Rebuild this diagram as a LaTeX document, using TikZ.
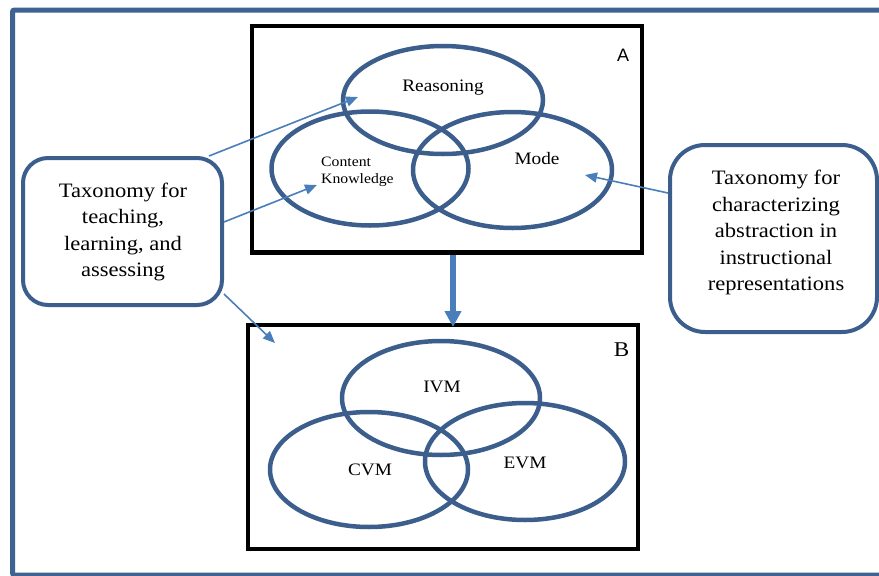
\documentclass[tikz,border=0pt]{standalone}
\usepackage{fontspec}
\setmainfont[FakeStretch=1.1]{Liberation Serif}
\newfontfamily\labsans{Liberation Sans}
\usetikzlibrary{arrows.meta,shapes.geometric}
\definecolor{frameblue}{HTML}{3E6292}
\definecolor{ringblue}{HTML}{3B5E8C}
\definecolor{arrowblue}{HTML}{4A7EBB}
\tikzset{
  ring/.style={ellipse, draw=ringblue, line width=4.5pt, inner sep=0pt},
  blackbox/.style={draw=black, line width=4.5pt, inner sep=0pt},
  taxbox/.style={draw=ringblue, line width=4pt, inner sep=0pt},
  boxtext/.style={align=center, font=\fontsize{20.5}{26.5}\selectfont},
  ringtext/.style={font=\fontsize{17.5}{21}\selectfont},
  thinarrow/.style={draw=arrowblue, line width=1.6pt, -{Triangle[length=12pt,width=10pt]}},
  bigarrow/.style={draw=arrowblue, line width=6pt, -{Triangle[length=16pt,width=16pt]}}
}
\begin{document}
\begin{tikzpicture}[x=1pt,y=-1pt]
\useasboundingbox (0,0) rectangle (879,576);
% outer frame
\draw[draw=frameblue, line width=5pt, rounded corners=2pt] (882,10) -- (12.5,10) -- (12.5,575) -- (882,575);
% boxes A and B
\node[blackbox, minimum width=390pt, minimum height=226.5pt] (boxA) at (447,139.25) {};
\node[blackbox, minimum width=390pt, minimum height=224pt] (boxB) at (443,437) {};
\node[font=\labsans\fontsize{18}{20}\selectfont] (labA) at (623,55) {A};
\node[font=\fontsize{21}{22}\selectfont] (labB) at (621.5,349.5) {B};
% rings in A
\node[ring, minimum width=200pt, minimum height=108pt] (reason) at (443,100) {};
\node[ring, minimum width=197pt, minimum height=114pt] (ck) at (370,168.5) {};
\node[ring, minimum width=199pt, minimum height=116pt] (mode) at (512.5,170) {};
\node[ringtext] (treason) at (443,88) {Reasoning};
\node[ringtext] (tmode) at (537,159) {Mode};
\node[anchor=west, align=left, inner sep=0pt, font=\fontsize{14.3}{17}\selectfont] (tck) at (321,171.5) {Content\\Knowledge};
% rings in B
\node[ring, minimum width=198pt, minimum height=114pt] (ivm) at (441,398) {};
\node[ring, minimum width=198pt, minimum height=115pt] (cvm) at (369,469.5) {};
\node[ring, minimum width=200pt, minimum height=117pt] (evm) at (525,461.5) {};
\node[ringtext] (tivm) at (442,387) {IVM};
\node[ringtext] (tcvm) at (370,470) {CVM};
\node[ringtext] (tevm) at (525,463) {EVM};
% taxonomy boxes
\node[taxbox, rounded corners=25pt, minimum width=199pt, minimum height=147pt] (lbox) at (122.5,231.5) {};
\node[boxtext] (ltext) at (123,232) {Taxonomy for\\teaching,\\learning, and\\assessing};
\node[taxbox, rounded corners=35pt, minimum width=207pt, minimum height=187pt] (rbox) at (773.5,238.5) {};
\node[boxtext] (rtext) at (776,232.5) {Taxonomy for\\characterizing\\abstraction in\\instructional\\representations};
% arrow targets
\coordinate (tipR) at (358,97);
\coordinate (tipC) at (317,185);
\coordinate (tipB) at (275,343);
\coordinate (tipM) at (585,175);
\coordinate (bigS) at (453,255);
\coordinate (bigE) at (453,327);
% connectors
\draw[thinarrow] ([xshift=-15pt]lbox.north east) -- (tipR);
\draw[thinarrow] ([yshift=9.5pt]lbox.east) -- (tipC);
\draw[thinarrow] ([yshift=13pt]lbox.south east) -- (tipB);
\draw[thinarrow] ([yshift=45.5pt]rbox.west) -- (tipM);
\draw[bigarrow] (bigS) -- (bigE);
\end{tikzpicture}
\end{document}
